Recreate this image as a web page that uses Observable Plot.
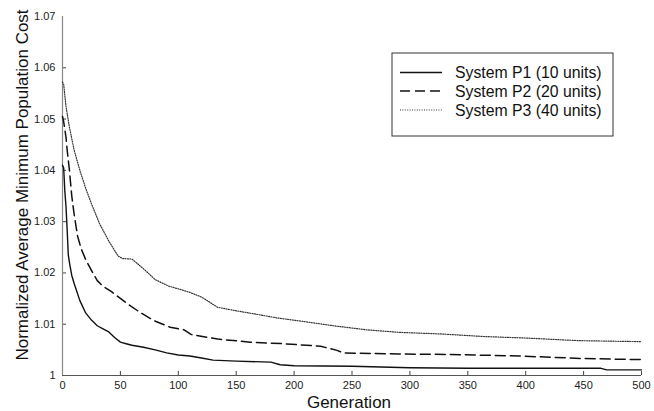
<!DOCTYPE html>
<html>
<head>
<meta charset="utf-8">
<script src="https://cdn.jsdelivr.net/npm/d3@7"></script>
<script src="https://cdn.jsdelivr.net/npm/@observablehq/plot@0.6"></script>
<style>
  html, body { margin: 0; padding: 0; background: #fff; }
  #chart { width: 654px; height: 411px; }
  svg { font-family: "Liberation Sans", Arial, sans-serif; }
</style>
</head>
<body>
<div id="chart"></div>
<script>
// ---- data ----
const seriesNames = ["System P1 (10 units)", "System P2 (20 units)", "System P3 (40 units)"];

const p1Gen  = [0,1,2,3,4,5,6,8,10,15,20,25,30,35,40,45,50,55,60,70,80,90,100,110,120,130,150,180,188,200,250,300,350,400,465,470,500];
const p1Cost = [1.0410,1.0405,1.0360,1.0330,1.0285,1.0235,1.0220,1.0195,1.0180,1.0146,1.0122,1.0108,1.0097,1.0091,1.0085,1.0074,1.0065,1.0062,1.0059,1.0055,1.0050,1.0044,1.0040,1.0038,1.0034,1.0030,1.0028,1.0026,1.0021,1.0019,1.0018,1.0015,1.0014,1.0014,1.0014,1.0011,1.0011];

const p2Gen  = [0,1,2,3,4,6,8,10,13,16,20,25,30,35,42,56,67,79,93,105,111,134,162,191,223,237,243,290,335,395,450,500];
const p2Cost = [1.0505,1.0495,1.0480,1.0465,1.0440,1.0400,1.0350,1.0315,1.0272,1.0248,1.0226,1.0205,1.0185,1.0174,1.0164,1.0140,1.0123,1.0107,1.0094,1.0089,1.0080,1.0071,1.0065,1.0062,1.0057,1.0049,1.0044,1.0042,1.0041,1.0038,1.0033,1.0031];

const p3Gen  = [0,1,3,6,10,15,20,25,32,40,48,52,60,70,80,92,100,110,120,134,148,166,186,206,234,263,292,327,364,401,445,500];
const p3Cost = [1.0572,1.0568,1.0525,1.0484,1.0440,1.0400,1.0365,1.0335,1.0296,1.0262,1.0233,1.0228,1.0227,1.0208,1.0187,1.0174,1.0169,1.0162,1.0153,1.0133,1.0127,1.0120,1.0112,1.0106,1.0097,1.0089,1.0084,1.0081,1.0076,1.0073,1.0068,1.0066];

const xTicks = [0,50,100,150,200,250,300,350,400,450,500];
const yTicks = [1,1.01,1.02,1.03,1.04,1.05,1.06,1.07];
const xTitle = "Generation";
const yTitle = "Normalized Average Minimum Population Cost";

// ---- styles ----
const styles = [
  {stroke: "#111", strokeWidth: 1.4, dash: null},
  {stroke: "#111", strokeWidth: 1.5, dash: "10,5"},
  {stroke: "#333", strokeWidth: 1.2, dash: "1,1.4"}
];

const toRows = (gen, cost) => gen.map((g, i) => ({g, c: cost[i]}));
const series = [toRows(p1Gen, p1Cost), toRows(p2Gen, p2Cost), toRows(p3Gen, p3Cost)];

const lineMarks = series.map((rows, i) => Plot.line(rows, {
  x: "g", y: "c",
  stroke: styles[i].stroke,
  strokeWidth: styles[i].strokeWidth,
  strokeDasharray: styles[i].dash,
  curve: "linear"
}));

const fmt = d => String(+d.toFixed(2));

const chart = Plot.plot({
  width: 654,
  height: 411,
  marginLeft: 62,
  marginRight: 13,
  marginTop: 16,
  marginBottom: 36,
  style: {fontFamily: "'Liberation Sans', Arial, sans-serif", background: "#fff"},
  x: {domain: [0, 500]},
  y: {domain: [1, 1.07]},
  marks: [
    Plot.axisX(xTicks, {tickSize: 0, tickPadding: 6, fontSize: 11, label: null, fill: "#222", tickFormat: d => String(d)}),
    Plot.axisY(yTicks, {tickSize: 0, tickPadding: 7, fontSize: 11, label: null, fill: "#222", tickFormat: fmt}),
    // inward tick marks
    Plot.ruleX(xTicks.slice(1), {y1: 1, y2: 1.0008, stroke: "#444", strokeWidth: 1}),
    Plot.ruleY(yTicks.slice(1, -1), {x1: 0, x2: 3.5, stroke: "#444", strokeWidth: 1}),
    // axis lines
    Plot.ruleX([0], {stroke: "#888", strokeWidth: 1.2}),
    Plot.ruleY([1], {stroke: "#555", strokeWidth: 1.2}),
    ...lineMarks
  ]
});

document.getElementById("chart").appendChild(chart);

// ---- titles and legend ----
const svg = d3.select(chart);
const font = "'Liberation Sans', Arial, sans-serif";

svg.append("text")
  .attr("transform", "translate(22,185) rotate(-90)")
  .attr("text-anchor", "middle")
  .attr("dominant-baseline", "central")
  .attr("font-size", 17)
  .attr("font-family", font)
  .attr("fill", "#111")
  .text(yTitle);

svg.append("text")
  .attr("x", 349)
  .attr("y", 408)
  .attr("text-anchor", "middle")
  .attr("font-size", 17)
  .attr("font-family", font)
  .attr("fill", "#111")
  .text(xTitle);

const lg = svg.append("g");
lg.append("rect")
  .attr("x", 392).attr("y", 53).attr("width", 221).attr("height", 83)
  .attr("fill", "#fff").attr("stroke", "#333").attr("stroke-width", 1);

const rowY = [72.5, 91, 110];
seriesNames.forEach((name, i) => {
  lg.append("line")
    .attr("x1", 400).attr("x2", 442)
    .attr("y1", rowY[i]).attr("y2", rowY[i])
    .attr("stroke", styles[i].stroke)
    .attr("stroke-width", styles[i].strokeWidth)
    .attr("stroke-dasharray", styles[i].dash);
  lg.append("text")
    .attr("x", 455).attr("y", rowY[i])
    .attr("text-anchor", "start")
    .attr("dominant-baseline", "central")
    .attr("font-size", 15.8)
    .attr("font-family", font)
    .attr("fill", "#111")
    .text(name);
});
</script>
</body>
</html>
